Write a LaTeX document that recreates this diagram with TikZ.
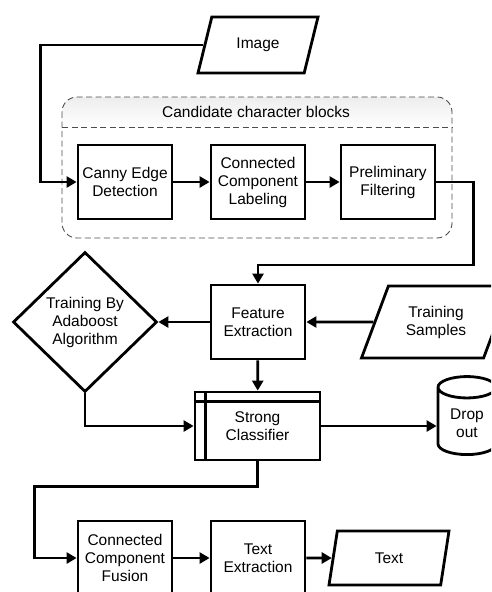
\documentclass[tikz,border=0pt]{standalone}
\usepackage{fontspec}
\setmainfont{Liberation Sans}
\usetikzlibrary{arrows.meta,shapes.geometric}

\begin{document}
\begin{tikzpicture}[x=1pt,y=-1pt,>={Triangle[length=10pt,width=11pt]},
    every node/.style={font=\fontsize{15.5}{18}\selectfont,align=center},
    box/.style={draw,line width=2.8pt,minimum width=94pt,minimum height=74pt,inner sep=1pt},
    iobox/.style={draw,line width=2.8pt,trapezium,trapezium stretches body,inner sep=1pt},
    flow/.style={->,line width=2.8pt}]
    \useasboundingbox (0,0) rectangle (491,592);
    \clip (0,0) rectangle (491,592);
    % candidate blocks group
    \shade[top color=gray!14,bottom color=white]
      (62,127) [rounded corners=15pt]-- (62,97) -- (452,97) [sharp corners]-- (452,127) -- cycle;
    \draw[gray!60!black,line width=0.9pt,dash pattern=on 6pt off 3.5pt,rounded corners=15pt]
      (62,97) rectangle (452,238);
    \draw[gray!60!black,line width=0.9pt,dash pattern=on 6pt off 3.5pt] (62,127) -- (452,127);
    \node (grp) at (256,112) {Candidate character blocks};
    % nodes
    \node[iobox,minimum width=120pt,minimum height=56pt,trapezium left angle=49,trapezium right angle=131]
      (img) at (258,45) {Image};
    \node[box] (canny) at (125,182) {Canny Edge\\Detection};
    \node[box] (ccl) at (258,182) {Connected\\Component\\Labeling};
    \node[box] (prelim) at (388,182) {Preliminary\\Filtering};
    \node[box] (feat) at (258,322) {Feature\\Extraction};
    \node[draw,diamond,line width=2.8pt,minimum width=144pt,minimum height=140pt,inner sep=0pt]
      (train) at (85,322) {Training By\\Adaboost\\Algorithm};
    \node[iobox,minimum width=149pt,minimum height=72pt,trapezium left angle=52,trapezium right angle=128]
      (samples) at (436,322) {Training\\Samples};
    \node[box,minimum width=125pt,minimum height=68pt] (sc) at (257.5,426) {Strong\\Classifier};
    \draw[line width=2.8pt] ([xshift=12pt]sc.north west) -- ([xshift=12pt]sc.south west);
    \draw[line width=2.8pt] ([yshift=-11pt]sc.north west) -- ([yshift=-11pt]sc.north east);
    \node[draw,cylinder,shape border rotate=90,aspect=0.6,line width=2.8pt,
      minimum width=58pt,minimum height=78pt,inner sep=1pt] (drop) at (467,423) {Drop\\out};
    \node[box] (ccf) at (125,558) {Connected\\Component\\Fusion};
    \node[box] (tex) at (258,558) {Text\\Extraction};
    \node[iobox,minimum width=120pt,minimum height=54pt,trapezium left angle=57,trapezium right angle=123]
      (txt) at (389,558) {Text};
    % connectors
    \draw[flow] (img.west) -| ([xshift=-36pt]canny.west) -- (canny.west);
    \draw[flow] (canny) -- (ccl);
    \draw[flow] (ccl) -- (prelim);
    \draw[flow] (prelim.east) -- ++(37,0) -- ++(0,83) -| (feat.north);
    \draw[flow] (feat) -- (train);
    \draw[flow] (samples.west) -- (feat.east);
    \draw[flow] (feat) -- (sc);
    \draw[flow] (train.south) |- (sc.west);
    \draw[flow] (sc.east) -- (sc.east -| drop.west);
    \draw[flow] (sc.south) -- ++(0,25) -- ++(-223,0) |- (ccf.west);
    \draw[flow] (ccf) -- (tex);
    \draw[flow] (tex.east) -- (txt.west);
\end{tikzpicture}
\end{document}
